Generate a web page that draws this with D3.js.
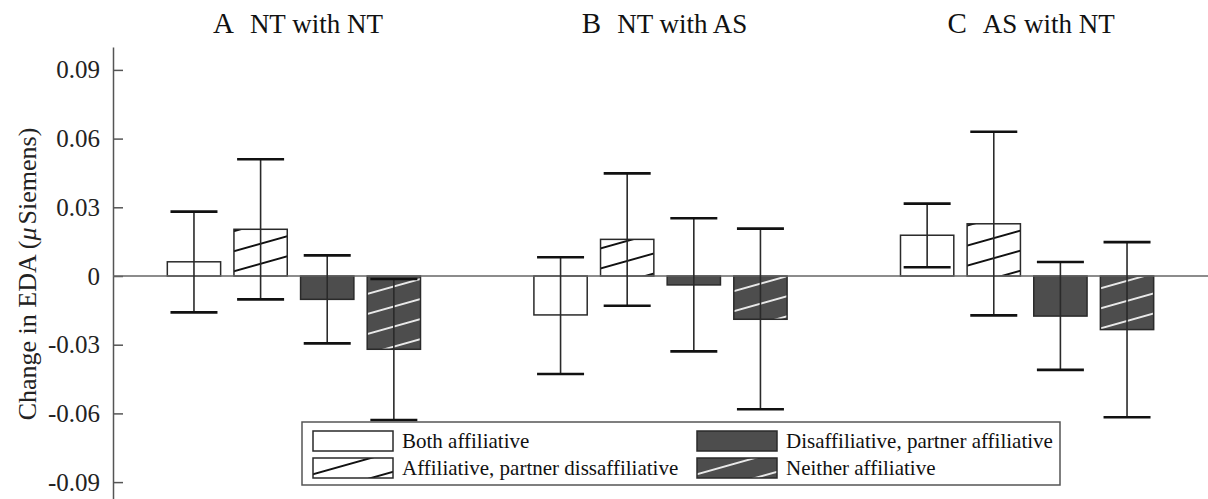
<!DOCTYPE html>
<html>
<head>
<meta charset="utf-8">
<script src="https://cdn.jsdelivr.net/npm/d3@7"></script>
<style>
  body { margin: 0; background: #fff; }
</style>
</head>
<body>
<div id="chart"></div>
<script>
(() => {
  // panels (groups) and their titles
  const panels = ["A", "B", "C"];
  const panelTitles = ["NT with NT", "NT with AS", "AS with NT"];

  // bar series
  const seriesNames = [
    "Both affiliative",
    "Affiliative, partner dissaffiliative",
    "Disaffiliative, partner affiliative",
    "Neither affiliative"
  ];

  // means per panel, one row per series (panel A, B, C)
  const meanBoth = [0.0062, -0.0170, 0.0178];
  const meanAffPartnerDis = [0.0204, 0.0160, 0.0228];
  const meanDisPartnerAff = [-0.0102, -0.0039, -0.0175];
  const meanNeither = [-0.0320, -0.0189, -0.0234];

  // error bar bounds (upper / lower)
  const upperBoth = [0.0281, 0.0082, 0.0316];
  const lowerBoth = [-0.0159, -0.0428, 0.0038];
  const upperAffPartnerDis = [0.0510, 0.0448, 0.0630];
  const lowerAffPartnerDis = [-0.0102, -0.0130, -0.0172];
  const upperDisPartnerAff = [0.0090, 0.0252, 0.0061];
  const lowerDisPartnerAff = [-0.0294, -0.0329, -0.0410];
  const upperNeither = [-0.0013, 0.0207, 0.0148];
  const lowerNeither = [-0.0629, -0.0582, -0.0617];

  const yTicks = [-0.09, -0.06, -0.03, 0, 0.03, 0.06, 0.09];

  const means = [meanBoth, meanAffPartnerDis, meanDisPartnerAff, meanNeither];
  const uppers = [upperBoth, upperAffPartnerDis, upperDisPartnerAff, upperNeither];
  const lowers = [lowerBoth, lowerAffPartnerDis, lowerDisPartnerAff, lowerNeither];

  const width = 1208;
  const height = 499;
  const axisX = 113;
  const dark = "#4d4d4d";
  const serif = "'Liberation Serif', 'DejaVu Serif', serif";

  const data = [];
  panels.forEach((p, pi) => {
    seriesNames.forEach((s, si) => {
      data.push({
        panel: p,
        series: s,
        si: si,
        value: means[si][pi],
        hi: uppers[si][pi],
        lo: lowers[si][pi]
      });
    });
  });

  const svg = d3
    .select("#chart")
    .append("svg")
    .attr("width", width)
    .attr("height", height)
    .style("display", "block")
    .attr("font-family", serif);

  // hatch patterns
  const defs = svg.append("defs");
  const makeHatch = (id, bg, fg) => {
    const pat = defs
      .append("pattern")
      .attr("id", id)
      .attr("patternUnits", "userSpaceOnUse")
      .attr("width", 20)
      .attr("height", 19.3)
      .attr("patternTransform", "rotate(-15.7) translate(0,6)");
    pat.append("rect").attr("width", 20).attr("height", 19.3).attr("fill", bg);
    pat
      .append("line")
      .attr("x1", 0)
      .attr("x2", 20)
      .attr("y1", 9.65)
      .attr("y2", 9.65)
      .attr("stroke", fg)
      .attr("stroke-width", 1.8);
  };
  makeHatch("hatchLight", "#fff", "#000");
  makeHatch("hatchDark", dark, "#f4f4f4");

  const fills = ["#fff", "url(#hatchLight)", dark, "url(#hatchDark)"];

  const x0 = d3
    .scaleBand()
    .domain(panels)
    .range([axisX, width])
    .paddingInner(0.273)
    .paddingOuter(0.13);

  const x1 = d3
    .scaleBand()
    .domain(d3.range(seriesNames.length))
    .range([0, x0.bandwidth()])
    .paddingInner(0.2)
    .paddingOuter(0.1);

  const y = d3.scaleLinear().domain([-0.1, 0.1]).range([505, 47]);

  // y axis
  const yAxis = (g) => {
    g.attr("transform", `translate(${axisX},0)`)
      .call(
        d3
          .axisLeft(y)
          .tickValues(yTicks)
          .tickSizeInner(-10)
          .tickSizeOuter(0)
          .tickPadding(13)
          .tickFormat((d) => (d === 0 ? "0" : d.toFixed(2)))
      )
      .attr("font-family", serif)
      .call((g) => g.select(".domain").attr("stroke", "#555").attr("stroke-width", 1.5))
      .call((g) => g.selectAll(".tick line").attr("stroke", "#555").attr("stroke-width", 1.5))
      .call((g) =>
        g
          .selectAll(".tick text")
          .attr("font-size", 25)
          .attr("fill", "#222")
      );
  };
  svg.append("g").call(yAxis);

  // axis label
  const ylab = svg
    .append("text")
    .attr("transform", `translate(36,${274}) rotate(-90)`)
    .attr("text-anchor", "middle")
    .attr("font-size", 26)
    .attr("fill", "#222");
  ylab.append("tspan").text("Change in EDA (");
  ylab.append("tspan").attr("font-style", "italic").text("μ");
  ylab.append("tspan").attr("dx", 3).text("Siemens)");

  // panel titles
  panels.forEach((p, i) => {
    const t = svg
      .append("text")
      .attr("x", x0(p) + x0.bandwidth() / 2 + 4)
      .attr("y", 33)
      .attr("text-anchor", "middle")
      .attr("fill", "#111");
    t.append("tspan").attr("font-size", 29).text(p);
    t.append("tspan").attr("dx", 16).attr("font-size", 27).text(panelTitles[i]);
  });

  // bars
  svg
    .append("g")
    .selectAll("rect")
    .data(data)
    .join("rect")
    .attr("x", (d) => x0(d.panel) + x1(d.si))
    .attr("y", (d) => y(Math.max(0, d.value)))
    .attr("width", x1.bandwidth())
    .attr("height", (d) => Math.abs(y(d.value) - y(0)))
    .attr("fill", (d) => fills[d.si])
    .attr("stroke", "#2a2a2a")
    .attr("stroke-width", 1.5);

  // zero line
  svg
    .append("line")
    .attr("x1", axisX)
    .attr("x2", width)
    .attr("y1", y(0))
    .attr("y2", y(0))
    .attr("stroke", "#666")
    .attr("stroke-width", 1.5);

  // error bars
  const capW = 47;
  const eb = svg.append("g").selectAll("g").data(data).join("g");
  const cx = (d) => x0(d.panel) + x1(d.si) + x1.bandwidth() / 2;
  eb.append("line")
    .attr("x1", cx)
    .attr("x2", cx)
    .attr("y1", (d) => y(d.hi))
    .attr("y2", (d) => y(d.lo))
    .attr("stroke", "#2a2a2a")
    .attr("stroke-width", 1.6);
  ["hi", "lo"].forEach((k) => {
    eb.append("line")
      .attr("x1", (d) => cx(d) - capW / 2)
      .attr("x2", (d) => cx(d) + capW / 2)
      .attr("y1", (d) => y(d[k]))
      .attr("y2", (d) => y(d[k]))
      .attr("stroke", "#111")
      .attr("stroke-width", 2.6);
  });

  // legend
  const lg = svg.append("g").attr("transform", "translate(302,422)");
  lg.append("rect")
    .attr("width", 758)
    .attr("height", 63)
    .attr("fill", "#fff")
    .attr("stroke", "#555")
    .attr("stroke-width", 1.5);
  const colX = [11, 395];
  const item = lg
    .selectAll("g.item")
    .data(seriesNames)
    .join("g")
    .attr("class", "item")
    .attr("transform", (d, i) => `translate(${colX[Math.floor(i / 2)]},${9 + (i % 2) * 27})`);
  item
    .append("rect")
    .attr("width", 80)
    .attr("height", 20)
    .attr("fill", (d, i) => fills[i])
    .attr("stroke", "#2a2a2a")
    .attr("stroke-width", 1.5);
  item
    .append("text")
    .attr("x", 89)
    .attr("y", 17)
    .attr("font-size", 21)
    .attr("fill", "#111")
    .text((d) => d);
})();
</script>
</body>
</html>
